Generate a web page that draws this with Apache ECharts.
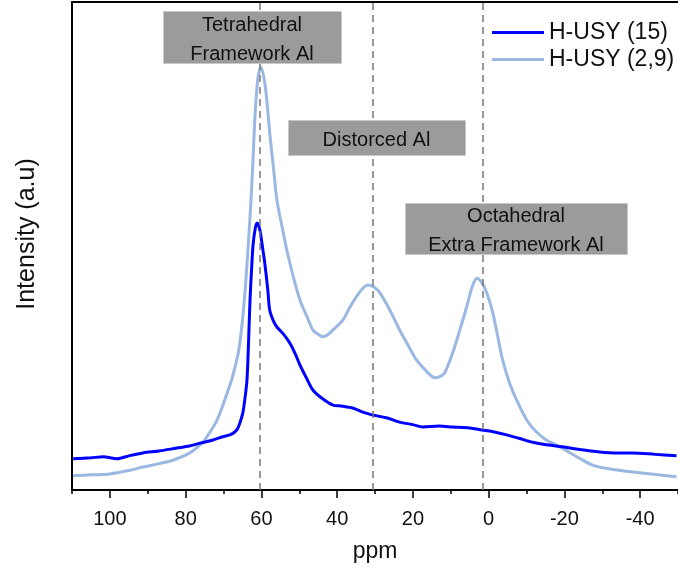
<!DOCTYPE html>
<html>
<head>
<meta charset="utf-8">
<script src="https://cdn.jsdelivr.net/npm/echarts@6/dist/echarts.min.js"></script>
<style>html,body{margin:0;padding:0;background:#fff}#c{width:678px;height:573px}</style>
</head>
<body>
<div id="c"></div>
<script>
// H-USY (15): [ppm, intensity]
const husy15 = [
  [109.7,6.4],[105,6.6],[101.8,6.8],[98.1,6.4],[95,7.0],[91.3,7.6],[87,8.0],[82.3,8.6],[79,9.0],[76.2,9.6],
  [73,10.2],[70.2,10.9],[68,11.4],[66.5,12.3],[65.7,13.7],[64.9,15.8],[64.3,19.0],[63.8,22.5],[63.4,30],[63.0,38.9],
  [62.6,45],[62.2,50.2],[61.6,53.7],[61.1,54.7],[60.4,53.3],[59.6,49.2],[59.1,46.5],[58.3,41.0],[57.8,36.9],
  [56.8,34.6],[55.9,33.4],[54,31.8],[52.5,30.1],[51,27.8],[49.8,25.6],[48,22.8],[46.4,20.5],[44,18.8],[41.1,17.4],
  [39,17.2],[37.4,17.0],[35.9,16.8],[33,15.9],[30.8,15.4],[27,14.8],[23.5,13.9],[20,13.4],[17.4,12.9],[13,13.1],
  [9.5,12.9],[5,12.7],[1.8,12.3],[-1.5,11.9],[-4.8,11.3],[-8,10.6],[-11.6,9.8],[-16.1,9.2],[-20,8.8],[-24,8.3],
  [-29.3,7.8],[-34,7.6],[-38.0,7.6],[-44,7.3],[-49.6,7.0]
];
// H-USY (2,9): [ppm, intensity]
const husy29 = [
  [109.7,2.9],[105,3.1],[100.0,3.3],[95,4.0],[91.3,4.7],[87,5.4],[83.4,6.1],[78.9,7.6],[75.4,9.8],[74.4,10.9],
  [71.7,14.3],[68.3,21.5],[67.5,23.6],[66,28.5],[64.9,35.5],[64,44],[63.0,55.9],[62.3,66],[61.7,76.4],[60.9,84.6],
  [60.1,86.7],[59.1,83.4],[58.4,78.5],[57.8,73.2],[56.8,66],[55.9,59.4],[54.5,53.8],[53.3,49.2],[51.5,43.5],
  [49.8,38.9],[48,35.6],[46.4,32.8],[45,31.9],[43.8,31.4],[42.5,31.8],[41.1,32.8],[38.5,34.8],[36.6,37.5],
  [34.0,40.6],[31.9,42.0],[30.3,41.6],[28.7,40.4],[26.1,36.9],[23.5,32.8],[21,29.3],[19.0,26.6],[16.5,24.4],
  [14.2,23.0],[12.8,23.3],[11.6,24.0],[9.5,28.1],[7.6,32.8],[5.8,37.5],[4.4,41.5],[3.1,43.4],[1.8,42.5],[0.5,40.4],
  [-1.1,36.3],[-2.4,31.5],[-3.7,26.6],[-5.5,22],[-7.4,18.4],[-10.1,14.3],[-12.5,12.0],[-15.3,10.2],[-16.9,9.6],
  [-20,8.3],[-24,6.5],[-27.5,5.1],[-32,4.3],[-38.0,3.7],[-44,3.2],[-49.6,2.7]
];
const seriesNames = ['H-USY (15)', 'H-USY (2,9)'];
const refLines = [60.3, 30.5, 1.6];
const xMin = -50, xMax = 110;
const majorTicks = [100, 80, 60, 40, 20, 0, -20, -40];
const minorTicks = [110, 90, 70, 50, 30, 10, -10, -30, -50];
const yTitle = 'Intensity (a.u)';
const annotations = [
  {text: 'Tetrahedral\nFramework Al', l: 163, t: 11, w: 178, h: 52},
  {text: 'Distorced Al', l: 288, t: 120, w: 177, h: 35},
  {text: 'Octahedral\nExtra Framework Al', l: 405, t: 203, w: 222, h: 51}
];

const FONT = '"Liberation Sans", Arial, sans-serif';
const chart = echarts.init(document.getElementById('c'), null, {renderer: 'canvas'});
const graphics = [];
annotations.forEach(a => {
  graphics.push({
    type: 'rect', left: a.l, top: a.t, z: 10,
    shape: {width: a.w, height: a.h},
    style: {fill: '#9b9b9b', stroke: '#c8c8c8', lineWidth: 1}
  });
  graphics.push({
    type: 'text', z: 11,
    x: a.l + a.w / 2, y: a.t + a.h / 2 + 2.5,
    style: {
      text: a.text, font: '20px ' + FONT, fill: '#111',
      align: 'center', verticalAlign: 'middle', lineHeight: 29
    }
  });
});
graphics.push({
  type: 'text', z: 11, x: 27, y: 234, rotation: Math.PI / 2,
  style: {text: yTitle, font: '25px ' + FONT, fill: '#111', align: 'center', verticalAlign: 'middle'}
});

chart.setOption({
  animation: false,
  backgroundColor: '#fff',
  textStyle: {fontFamily: FONT},
  grid: {left: 72, right: 0, top: 2, bottom: 83, containLabel: false},
  legend: {
    data: seriesNames, orient: 'vertical', left: 487, top: 16,
    icon: 'rect', itemWidth: 52, itemHeight: 3, itemGap: 4,
    textStyle: {fontSize: 23, color: '#111', fontFamily: FONT}
  },
  xAxis: [{
    type: 'value', min: xMin, max: xMax, inverse: true,
    name: 'ppm', nameLocation: 'middle', nameGap: 50,
    nameTextStyle: {fontSize: 23, color: '#111'},
    axisLine: {onZero: false, lineStyle: {color: '#000', width: 2}},
    axisTick: {show: true, inside: false, length: 8, customValues: majorTicks, lineStyle: {color: '#000', width: 1.5}},
    axisLabel: {fontSize: 20, color: '#111', margin: 19, customValues: majorTicks},
    splitLine: {show: false}
  }, {
    type: 'value', min: xMin, max: xMax, inverse: true, position: 'bottom',
    axisLine: {show: false},
    axisTick: {show: true, inside: false, length: 4, customValues: minorTicks, lineStyle: {color: '#000', width: 1.5}},
    axisLabel: {show: false}, splitLine: {show: false}
  }, {
    type: 'value', min: xMin, max: xMax, inverse: true, position: 'top',
    axisLine: {onZero: false, lineStyle: {color: '#000', width: 2}},
    axisTick: {show: false}, axisLabel: {show: false}, splitLine: {show: false}
  }],
  yAxis: {
    type: 'value', min: 0, max: 100,
    axisLine: {show: true, onZero: false, lineStyle: {color: '#000', width: 2}},
    axisTick: {show: false}, axisLabel: {show: false}, splitLine: {show: false}
  },
  series: [{
    name: seriesNames[0], type: 'line', data: husy15, showSymbol: false, smooth: 0.3,
    lineStyle: {color: '#0000ff', width: 3}, itemStyle: {color: '#0000ff'}, z: 3,
    markLine: {
      silent: true, symbol: 'none', label: {show: false},
      lineStyle: {color: '#777', type: [7, 5], width: 1.5},
      data: refLines.map(v => ({xAxis: v}))
    }
  }, {
    name: seriesNames[1], type: 'line', data: husy29, showSymbol: false, smooth: 0.3,
    lineStyle: {color: '#9ab8e2', width: 3}, itemStyle: {color: '#9ab8e2'}, z: 2
  }],
  graphic: graphics
});
</script>
</body>
</html>
